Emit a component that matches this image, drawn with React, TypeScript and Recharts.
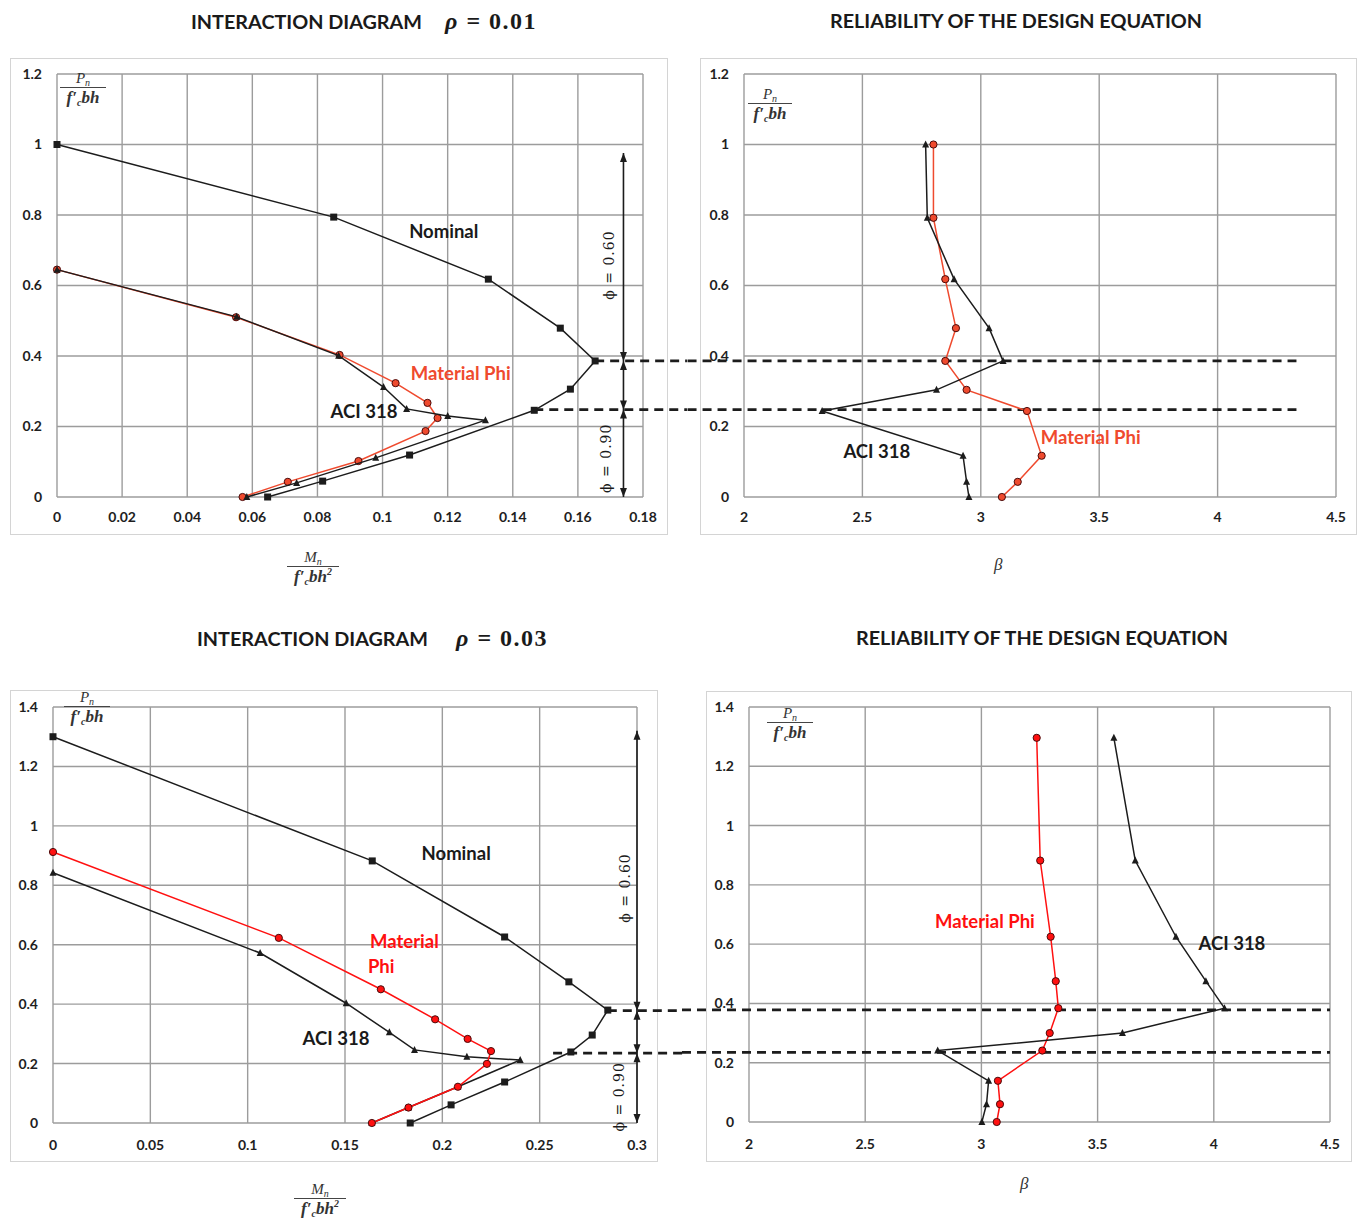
import React from "react";
import {
  ScatterChart, Scatter, XAxis, YAxis, CartesianGrid, ReferenceLine, ReferenceDot,
} from "recharts";

// ---------- rho = 0.01, interaction diagram (Mn/f'c bh², Pn/f'c bh) ----------
const nominalM01 = [0, 0.085, 0.1325, 0.1546, 0.1653, 0.1577, 0.1466, 0.1083, 0.0816, 0.0647];
const nominalP01 = [1.0, 0.794, 0.618, 0.479, 0.386, 0.306, 0.246, 0.119, 0.045, 0.0];
const aciM01 = [0, 0.0552, 0.0865, 0.1003, 0.1074, 0.12, 0.1316, 0.0979, 0.0736, 0.0583];
const aciP01 = [0.645, 0.511, 0.401, 0.312, 0.25, 0.23, 0.218, 0.111, 0.04, 0.0];
const matM01 = [0, 0.055, 0.0868, 0.104, 0.1138, 0.1169, 0.1132, 0.0926, 0.0709, 0.057];
const matP01 = [0.645, 0.51, 0.403, 0.323, 0.267, 0.224, 0.187, 0.102, 0.043, 0.0];

// ---------- rho = 0.01, reliability (beta) ----------
const levels01 = [1.0, 0.792, 0.618, 0.479, 0.386, 0.304, 0.244, 0.117, 0.043, 0];
const aciBeta01 = [2.767, 2.774, 2.887, 3.035, 3.094, 2.813, 2.33, 2.925, 2.94, 2.95];
const matBeta01 = [2.8, 2.8, 2.85, 2.895, 2.85, 2.94, 3.195, 3.257, 3.156, 3.089];

// ---------- rho = 0.03, interaction diagram ----------
const nominalM03 = [0, 0.164, 0.232, 0.265, 0.285, 0.277, 0.266, 0.232, 0.2045, 0.1835];
const nominalP03 = [1.3, 0.882, 0.626, 0.475, 0.38, 0.296, 0.239, 0.138, 0.061, 0];
const aciM03 = [0, 0.1064, 0.1506, 0.1728, 0.1857, 0.2126, 0.24, 0.208, 0.1826, 0.1638];
const aciP03 = [0.842, 0.572, 0.403, 0.305, 0.246, 0.223, 0.212, 0.122, 0.052, 0];
const matM03 = [0, 0.116, 0.1684, 0.1963, 0.213, 0.225, 0.2229, 0.208, 0.1826, 0.1638];
const matP03 = [0.912, 0.623, 0.45, 0.349, 0.283, 0.242, 0.199, 0.122, 0.052, 0];

// ---------- rho = 0.03, reliability ----------
const levels03 = [1.296, 0.882, 0.625, 0.475, 0.384, 0.3, 0.241, 0.139, 0.06, 0];
const aciBeta03 = [3.57, 3.662, 3.837, 3.966, 4.046, 3.607, 2.812, 3.031, 3.022, 3.002];
const matBeta03 = [3.238, 3.253, 3.298, 3.32, 3.331, 3.294, 3.262, 3.071, 3.08, 3.066];

// phi zone boundaries (Pn/f'c bh) and arrow extents
const breaks01 = [0.386, 0.248];
const breaks03 = [0.378, 0.235];
const arrowTop01 = 0.976;
const arrowTop03 = 1.32;

// ticks
const mTicks01 = [0, 0.02, 0.04, 0.06, 0.08, 0.1, 0.12, 0.14, 0.16, 0.18];
const mTicks03 = [0, 0.05, 0.1, 0.15, 0.2, 0.25, 0.3];
const betaTicks = [2, 2.5, 3, 3.5, 4, 4.5];
const pTicks01 = [0, 0.2, 0.4, 0.6, 0.8, 1, 1.2];
const pTicks03 = [0, 0.2, 0.4, 0.6, 0.8, 1, 1.2, 1.4];

const BLACK = "#1c1c1c";
const RED_TOP = "#ef4a2e";
const RED_BOT = "#ff1010";
const TICK = { fontFamily: "Lato, sans-serif", fontSize: 14, fontWeight: 700, fill: "#1e1e1e" };

const zip = (xs: number[], ys: number[]) => xs.map((x, i) => ({ x, y: ys[i] }));

const squareShape = (p: any) => (
  <rect x={p.cx - 3.5} y={p.cy - 3.5} width={7} height={7} fill={BLACK} />
);
const triShape = (p: any) => (
  <polygon points={`${p.cx},${p.cy - 4} ${p.cx - 3.5},${p.cy + 3} ${p.cx + 3.5},${p.cy + 3}`} fill={BLACK} />
);
const circleShape = (fill: string) => (p: any) => (
  <circle cx={p.cx} cy={p.cy} r={3.6} fill={fill} stroke="#4a0a0a" strokeWidth={1} />
);
const arrowShape = (p: any) => {
  const d = p.payload.dir === "up" ? -1 : 1;
  return (
    <polygon
      points={`${p.cx},${p.cy} ${p.cx - 3.5},${p.cy - d * 9} ${p.cx + 3.5},${p.cy - d * 9}`}
      fill={BLACK}
    />
  );
};

type Note = { x: number; y: number; text: string; color?: string; size?: number; angle?: number; serif?: boolean };

const noteContent = (n: Note) => (props: any) => {
  const vb = props.viewBox || { x: 0, y: 0, width: 0, height: 0 };
  const cx = vb.x + vb.width / 2;
  const cy = vb.y + vb.height / 2;
  return (
    <text
      x={cx}
      y={cy}
      textAnchor="middle"
      dominantBaseline="central"
      transform={n.angle ? `rotate(${n.angle} ${cx} ${cy})` : undefined}
      fill={n.color || "#1a1a1a"}
      fontSize={n.size || 18.5}
      fontWeight={n.serif ? 400 : 700}
      fontFamily={n.serif ? '"DejaVu Serif", serif' : "Lato, sans-serif"}
      letterSpacing={n.serif ? 1 : 0}
    >
      {n.text}
    </text>
  );
};

type Series = { xs: number[]; ys: number[]; color: string; shape: any };

function Panel({
  box, margin, yWidth, xHeight, xTickMargin, xDomain, xTicks, yDomain, yTicks,
  series, dashes, arrow, notes,
}: {
  box: { left: number; top: number; width: number; height: number };
  margin: { top: number; right: number };
  yWidth: number;
  xHeight: number;
  xTickMargin: number;
  xDomain: [number, number];
  xTicks: number[];
  yDomain: [number, number];
  yTicks: number[];
  series: Series[];
  dashes: { y: number; from: number; to: number }[];
  arrow?: { x: number; top: number; breaks: number[] };
  notes: Note[];
}) {
  const heads = arrow
    ? [
        { x: arrow.x, y: arrow.top, dir: "up" },
        ...arrow.breaks.flatMap((b) => [
          { x: arrow.x, y: b, dir: "down" },
          { x: arrow.x, y: b, dir: "up" },
        ]),
        { x: arrow.x, y: 0, dir: "down" },
      ]
    : [];
  return (
    <div style={{ position: "absolute", left: box.left, top: box.top }}>
      <ScatterChart
        width={box.width}
        height={box.height}
        margin={{ top: margin.top, right: margin.right, bottom: 0, left: 0 }}
      >
        <CartesianGrid stroke="#9c9c9c" strokeWidth={1.4} />
        <XAxis
          type="number" dataKey="x" domain={xDomain} ticks={xTicks} interval={0}
          axisLine={false} tickLine={false} tickSize={0} tickMargin={xTickMargin}
          height={xHeight} tick={TICK} tickFormatter={(v) => String(v)}
        />
        <YAxis
          type="number" dataKey="y" domain={yDomain} ticks={yTicks} interval={0}
          axisLine={false} tickLine={false} tickSize={0} tickMargin={15}
          width={yWidth} tick={TICK} tickFormatter={(v) => String(v)}
        />
        {dashes.map((d, i) => (
          <ReferenceLine
            key={"d" + i}
            segment={[{ x: d.from, y: d.y }, { x: d.to, y: d.y }]}
            stroke={BLACK} strokeWidth={2.8} strokeDasharray="9 6" ifOverflow="visible"
          />
        ))}
        {arrow && (
          <ReferenceLine
            segment={[{ x: arrow.x, y: 0 }, { x: arrow.x, y: arrow.top }]}
            stroke={BLACK} strokeWidth={1.6} ifOverflow="visible"
          />
        )}
        {arrow && <Scatter data={heads} shape={arrowShape} isAnimationActive={false} />}
        {series.map((s, i) => (
          <Scatter
            key={"s" + i}
            data={zip(s.xs, s.ys)}
            line={{ stroke: s.color, strokeWidth: 1.5 }}
            shape={s.shape}
            isAnimationActive={false}
          />
        ))}
        {notes.map((n, i) => (
          <ReferenceDot
            key={"n" + i} x={n.x} y={n.y} r={0} fill="none" stroke="none"
            ifOverflow="visible" label={{ content: noteContent(n) }}
          />
        ))}
      </ScatterChart>
    </div>
  );
}

const subStyle: React.CSSProperties = { fontSize: 10, verticalAlign: "-3px", lineHeight: 0 };
const supStyle: React.CSSProperties = { fontSize: 10, verticalAlign: "7px", lineHeight: 0 };

function Frac({ cx, top, width, squared, moment }: { cx: number; top: number; width: number; squared?: boolean; moment?: boolean }) {
  return (
    <div
      style={{
        position: "absolute", left: cx - width / 2, top, width, textAlign: "center",
        fontFamily: '"Liberation Serif", serif', fontStyle: "italic", fontSize: 17,
        color: "#333", lineHeight: "15px", whiteSpace: "nowrap",
      }}
    >
      <div style={{ paddingBottom: 1, fontSize: 15 }}>
        {moment ? "M" : "P"}<span style={subStyle}>n</span>
      </div>
      <div style={{ borderTop: "1.3px solid #444", paddingTop: 2, fontWeight: 700 }}>
        f′<span style={subStyle}>c</span>bh{squared && <span style={supStyle}>2</span>}
      </div>
    </div>
  );
}

const boxStyle = (l: number, t: number, w: number, h: number): React.CSSProperties => ({
  position: "absolute", left: l, top: t, width: w, height: h,
  border: "1.5px solid #d4d4d4", boxSizing: "border-box",
});

const titleStyle: React.CSSProperties = {
  position: "absolute", fontFamily: "Lato, sans-serif", fontWeight: 700, fontSize: 19.8,
  color: "#1a1a1a", lineHeight: "24px", whiteSpace: "nowrap",
};
const rhoStyle: React.CSSProperties = {
  position: "absolute", fontFamily: '"Liberation Serif", serif', fontWeight: 700, fontSize: 24,
  color: "#1a1a1a", lineHeight: "24px", whiteSpace: "nowrap", letterSpacing: 1.5,
};
const betaStyle: React.CSSProperties = {
  position: "absolute", fontFamily: '"Liberation Serif", serif', fontStyle: "italic",
  fontSize: 17, color: "#333",
};

export default function App() {
  return (
    <div style={{ position: "absolute", left: 0, top: 0, width: 1365, height: 1221, background: "#fff" }}>
      <style>{".recharts-surface{overflow:visible}"}</style>

      {/* titles */}
      <div style={{ ...titleStyle, left: 191, top: 9 }}>INTERACTION DIAGRAM</div>
      <div style={{ ...rhoStyle, left: 445, top: 9 }}><i>ρ</i> = 0.01</div>
      <div style={{ ...titleStyle, left: 716, top: 8, width: 600, textAlign: "center" }}>
        RELIABILITY OF THE DESIGN EQUATION
      </div>
      <div style={{ ...titleStyle, left: 197, top: 626 }}>INTERACTION DIAGRAM</div>
      <div style={{ ...rhoStyle, left: 456, top: 626 }}><i>ρ</i> = 0.03</div>
      <div style={{ ...titleStyle, left: 742, top: 625, width: 600, textAlign: "center" }}>
        RELIABILITY OF THE DESIGN EQUATION
      </div>

      {/* frames */}
      <div style={boxStyle(10, 58, 658, 477)} />
      <div style={boxStyle(700, 58, 657, 477)} />
      <div style={boxStyle(10, 690, 648, 472)} />
      <div style={boxStyle(706, 691, 646, 471)} />

      {/* rho = 0.01 interaction */}
      <Panel
        box={{ left: 10, top: 58, width: 658, height: 477 }}
        margin={{ top: 16, right: 25 }} yWidth={47} xHeight={38} xTickMargin={15}
        xDomain={[0, 0.18]} xTicks={mTicks01} yDomain={[0, 1.2]} yTicks={pTicks01}
        series={[
          { xs: nominalM01, ys: nominalP01, color: BLACK, shape: squareShape },
          { xs: matM01, ys: matP01, color: RED_TOP, shape: circleShape(RED_TOP) },
          { xs: aciM01, ys: aciP01, color: BLACK, shape: triShape },
        ]}
        dashes={[
          { y: breaks01[0], from: 0.1653, to: 0.1935 },
          { y: breaks01[1], from: 0.1466, to: 0.1935 },
        ]}
        arrow={{ x: 0.174, top: arrowTop01, breaks: breaks01 }}
        notes={[
          { x: 0.1188, y: 0.755, text: "Nominal" },
          { x: 0.124, y: 0.352, text: "Material Phi", color: RED_TOP },
          { x: 0.0943, y: 0.244, text: "ACI 318" },
          { x: 0.1697, y: 0.658, text: "ϕ = 0.60", angle: -90, serif: true, size: 14 },
          { x: 0.1685, y: 0.11, text: "ϕ = 0.90", angle: -90, serif: true, size: 14 },
        ]}
      />

      {/* rho = 0.01 reliability */}
      <Panel
        box={{ left: 700, top: 58, width: 657, height: 477 }}
        margin={{ top: 16, right: 21 }} yWidth={44} xHeight={38} xTickMargin={15}
        xDomain={[2, 4.5]} xTicks={betaTicks} yDomain={[0, 1.2]} yTicks={pTicks01}
        series={[
          { xs: matBeta01, ys: levels01, color: RED_TOP, shape: circleShape(RED_TOP) },
          { xs: aciBeta01, ys: levels01, color: BLACK, shape: triShape },
        ]}
        dashes={[
          { y: breaks01[0], from: 1.7616, to: 4.333 },
          { y: breaks01[1], from: 1.7616, to: 4.333 },
        ]}
        notes={[
          { x: 3.464, y: 0.17, text: "Material Phi", color: RED_TOP },
          { x: 2.561, y: 0.13, text: "ACI 318" },
        ]}
      />

      {/* rho = 0.03 interaction */}
      <Panel
        box={{ left: 10, top: 690, width: 648, height: 472 }}
        margin={{ top: 17, right: 21 }} yWidth={43} xHeight={39} xTickMargin={17}
        xDomain={[0, 0.3]} xTicks={mTicks03} yDomain={[0, 1.4]} yTicks={pTicks03}
        series={[
          { xs: nominalM03, ys: nominalP03, color: BLACK, shape: squareShape },
          { xs: aciM03, ys: aciP03, color: BLACK, shape: triShape },
          { xs: matM03, ys: matP03, color: RED_BOT, shape: circleShape(RED_BOT) },
        ]}
        dashes={[
          { y: breaks03[0], from: 0.285, to: 0.3232 },
          { y: breaks03[1], from: 0.2569, to: 0.3232 },
        ]}
        arrow={{ x: 0.3, top: arrowTop03, breaks: breaks03 }}
        notes={[
          { x: 0.2071, y: 0.909, text: "Nominal" },
          { x: 0.1805, y: 0.613, text: "Material", color: RED_BOT },
          { x: 0.1686, y: 0.529, text: "Phi", color: RED_BOT },
          { x: 0.1454, y: 0.286, text: "ACI 318" },
          { x: 0.294, y: 0.791, text: "ϕ = 0.60", angle: -90, serif: true, size: 14 },
          { x: 0.291, y: 0.088, text: "ϕ = 0.90", angle: -90, serif: true, size: 14 },
        ]}
      />

      {/* rho = 0.03 reliability */}
      <Panel
        box={{ left: 706, top: 691, width: 646, height: 471 }}
        margin={{ top: 16, right: 22 }} yWidth={43} xHeight={40} xTickMargin={17}
        xDomain={[2, 4.5]} xTicks={betaTicks} yDomain={[0, 1.4]} yTicks={pTicks03}
        series={[
          { xs: matBeta03, ys: levels03, color: RED_BOT, shape: circleShape(RED_BOT) },
          { xs: aciBeta03, ys: levels03, color: BLACK, shape: triShape },
        ]}
        dashes={[
          { y: breaks03[0], from: 1.7117, to: 4.5 },
          { y: breaks03[1], from: 1.7117, to: 4.5 },
        ]}
        notes={[
          { x: 3.015, y: 0.677, text: "Material Phi", color: RED_BOT },
          { x: 4.078, y: 0.603, text: "ACI 318" },
        ]}
      />

      {/* axis titles */}
      <Frac cx={83} top={71} width={46} />
      <Frac cx={770} top={87} width={44} />
      <Frac cx={87} top={690} width={46} />
      <Frac cx={790} top={706} width={46} />
      <Frac cx={313} top={550} width={52} squared moment />
      <Frac cx={320} top={1182} width={52} squared moment />
      <div style={{ ...betaStyle, left: 994, top: 555 }}>β</div>
      <div style={{ ...betaStyle, left: 1020, top: 1174 }}>β</div>
    </div>
  );
}
